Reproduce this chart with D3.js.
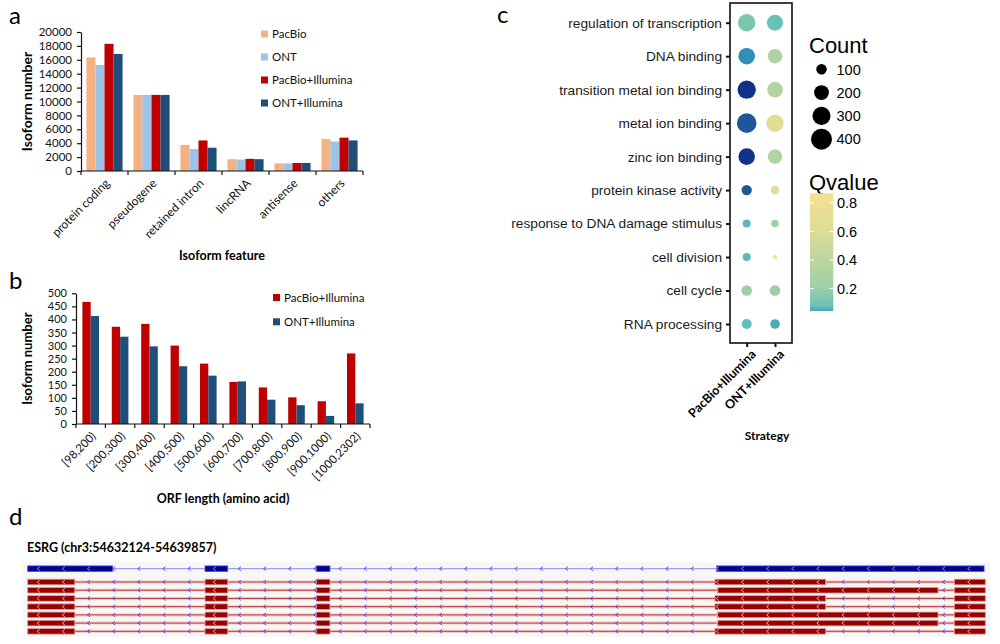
<!DOCTYPE html>
<html>
<head>
<meta charset="utf-8">
<title>Isoform figure</title>
<script src="https://d3js.org/d3.v7.min.js"></script>
<style>
  body { margin: 0; background: #fff; }
  svg { font-family: Lato, sans-serif; }
</style>
</head>
<body>
<svg id="screen" width="1000" height="644"></svg>
<script>
// ---- panel a : isoform feature counts
const featureCats = ["protein coding", "pseudogene", "retained intron", "lincRNA", "antisense", "others"]
const seriesA = ["PacBio", "ONT", "PacBio+Illumina", "ONT+Illumina"]
const pacbio    = [16350, 10950, 3750, 1700, 1100, 4600]
const ont       = [15250, 10950, 3150, 1650, 1100, 4250]
const pacbioIll = [18300, 10950, 4400, 1750, 1150, 4800]
const ontIll    = [16850, 10950, 3350, 1700, 1150, 4400]
const ticksA = [0, 2000, 4000, 6000, 8000, 10000, 12000, 14000, 16000, 18000, 20000]

// ---- panel b : ORF length
const orfCats = ["[98,200)", "[200,300)", "[300,400)", "[400,500)", "[500,600)", "[600,700)", "[700,800)", "[800,900)", "[900,1000)", "[1000,2302)"]
const seriesB = ["PacBio+Illumina", "ONT+Illumina"]
const orfPacIll = [467, 372, 383, 300, 231, 161, 140, 102, 87, 270]
const orfOntIll = [413, 334, 297, 221, 185, 163, 93, 72, 31, 79]
const ticksB = [0, 50, 100, 150, 200, 250, 300, 350, 400, 450, 500]

// ---- panel c : GO enrichment
const goTerms = ["regulation of transcription", "DNA binding", "transition metal ion binding", "metal ion binding",
  "zinc ion binding", "protein kinase activity", "response to DNA damage stimulus", "cell division", "cell cycle", "RNA processing"]
const strategies = ["PacBio+Illumina", "ONT+Illumina"]
const countPac = [275, 250, 307, 348, 250, 98, 58, 58, 102, 91]
const countOnt = [232, 193, 221, 275, 193, 67, 52, 19, 102, 84]
const qPac = [0.12, 0.025, 0.001, 0.006, 0.001, 0.006, 0.055, 0.055, 0.2, 0.06]
const qOnt = [0.07, 0.3, 0.33, 0.65, 0.33, 0.65, 0.22, 0.85, 0.2, 0.045]
const countTicks = [100, 200, 300, 400]
const qTicks = [0.2, 0.4, 0.6, 0.8]

// ---- panel d : ESRG gene models
const geneTitle = "ESRG (chr3:54632124-54639857)"
const region = [54632124, 54639857]
const refExons = [[54632124, 54632810], [54633556, 54633739], [54634455, 54634565], [54637688, 54639847]]
const isoShort = [[54632124, 54632504], [54633556, 54633739], [54634455, 54634565], [54637674, 54638568], [54639607, 54639857]]
const isoLong  = [[54632124, 54632504], [54633556, 54633739], [54634455, 54634565], [54637693, 54639475], [54639607, 54639857]]
const isoforms = [isoShort, isoLong, isoShort, isoShort, isoLong, isoLong, isoShort]

let svg = d3.select('#screen')

// panel letters
svg.selectAll('.plabel')
   .data([["a", 9, 24], ["b", 9, 289], ["c", 497, 23], ["d", 9, 525]])
   .enter().append('text')
   .attr('x', d => d[1]).attr('y', d => d[2])
   .attr('font-size', 24).text(d => d[0])

// grouped bar chart helper (panel a and b look the same apart from sizes)
function barPanel(opt) {
  let g = svg.append('g')
  let y = d3.scaleLinear().domain(opt.domain).range([opt.base, opt.top])
  let x0 = d3.scaleBand().domain(opt.cats).range([opt.left, opt.right])
  let x1 = d3.scaleBand().domain(opt.series).range([0, x0.bandwidth()]).paddingOuter(opt.pad)

  opt.series.forEach(function(s, si) {
    g.selectAll('.bar' + si)
     .data(opt.values[si])
     .enter().append('rect')
     .attr('x', (d, i) => x0(opt.cats[i]) + x1(s))
     .attr('width', x1.bandwidth())
     .attr('y', d => y(d))
     .attr('height', d => opt.base - y(d))
     .attr('fill', opt.colors[si])
  })

  let ya = g.append('g').attr('transform', `translate(${opt.left},0)`)
    .call(d3.axisLeft(y).tickValues(opt.ticks).tickFormat(d3.format('d'))
      .tickSize(4).tickSizeOuter(0).tickPadding(5))
  ya.attr('font-family', 'Lato').attr('font-size', opt.tickFont)
  ya.selectAll('text').attr('fill', '#111')
  ya.selectAll('line, path').attr('stroke', '#111').attr('stroke-width', 1.2)

  // x axis line + ticks at category borders
  g.append('line').attr('x1', opt.left).attr('x2', opt.right)
   .attr('y1', opt.base).attr('y2', opt.base).attr('stroke', '#111').attr('stroke-width', 1.2)
  g.selectAll('.xt').data(opt.cats.map(c => x0(c)).concat([opt.right]))
   .enter().append('line')
   .attr('x1', d => d).attr('x2', d => d).attr('y1', opt.base).attr('y2', opt.base + 4)
   .attr('stroke', '#111').attr('stroke-width', 1.2)
  g.selectAll('.xl').data(opt.cats).enter().append('text')
   .attr('transform', d => `translate(${x0(d) + x0.bandwidth() / 2 + 3},${opt.base + 10}) rotate(-45)`)
   .attr('text-anchor', 'end').attr('dy', '0.35em')
   .attr('font-size', opt.labFont).attr('fill', '#111')
   .text(d => d)

  // legend
  opt.series.forEach(function(s, si) {
    let ly = opt.legY + si * opt.legStep
    g.append('rect').attr('x', opt.legX).attr('y', ly - 3.5).attr('width', 7).attr('height', 7)
     .attr('fill', opt.colors[si])
    g.append('text').attr('x', opt.legX + 11).attr('y', ly).attr('dy', '0.35em')
     .attr('font-size', 11.5).attr('fill', '#111').text(s)
  })

  // titles
  g.append('text').attr('transform', `translate(${opt.ytX},${(opt.base + opt.top) / 2}) rotate(-90)`)
   .attr('text-anchor', 'middle').attr('dy', '0.35em').attr('font-weight', 'bold')
   .attr('font-size', opt.ytFont).text("Isoform number")
  g.append('text').attr('x', opt.xtX).attr('y', opt.xtY).attr('dy', '0.35em')
   .attr('text-anchor', 'middle').attr('font-weight', 'bold').attr('font-size', 12.5)
   .text(opt.xTitle)
}

barPanel({
  cats: featureCats, series: seriesA, values: [pacbio, ont, pacbioIll, ontIll],
  colors: ["#f4b183", "#9dc3e6", "#c00000", "#1f4e79"],
  domain: [0, 20000], ticks: ticksA, base: 171, top: 32, left: 81, right: 363, pad: 0.6,
  tickFont: 11.5, labFont: 12, legX: 261, legY: 34, legStep: 23,
  ytX: 27, ytFont: 14, xtX: 222, xtY: 256, xTitle: "Isoform feature"
})

barPanel({
  cats: orfCats, series: seriesB, values: [orfPacIll, orfOntIll],
  colors: ["#c00000", "#1f4e79"],
  domain: [0, 500], ticks: ticksB, base: 424, top: 293.3, left: 76, right: 370, pad: 0.77,
  tickFont: 11, labFont: 11.5, legX: 273, legY: 297.5, legStep: 24.3,
  ytX: 27, ytFont: 13, xtX: 223, xtY: 499, xTitle: "ORF length (amino acid)"
})

// ---------------- panel c ----------------
let gc = svg.append('g')
let box = {left: 730, right: 792, top: 3, bottom: 343}
let yC = d3.scalePoint().domain(goTerms).range([22.7, 324])
let xC = d3.scalePoint().domain(strategies).range([746.7, 775])
let rC = d3.scaleSqrt().domain([0, 400]).range([0, 10.5])
let qColor = d3.scaleLinear()
  .domain([0, 0.006, 0.025, 0.06, 0.2, 0.4, 0.6, 0.867])
  .range(["#0c2c84", "#1d5797", "#2e8fb8", "#62c0b9", "#9dcfa7", "#bdd6a0", "#dcdc98", "#f7e08d"])

gc.append('rect').attr('x', box.left).attr('y', box.top)
  .attr('width', box.right - box.left).attr('height', box.bottom - box.top)
  .attr('fill', 'white').attr('stroke', '#111').attr('stroke-width', 1.6)

let dots = []
goTerms.forEach(function(t, i) {
  dots.push({term: t, strat: strategies[0], count: countPac[i], q: qPac[i]})
  dots.push({term: t, strat: strategies[1], count: countOnt[i], q: qOnt[i]})
})
gc.selectAll('circle.dot').data(dots).enter().append('circle')
  .attr('cx', d => xC(d.strat)).attr('cy', d => yC(d.term))
  .attr('r', d => rC(d.count)).attr('fill', d => qColor(d.q))

let yaC = gc.append('g').attr('transform', `translate(${box.left},0)`)
  .call(d3.axisLeft(yC).tickSize(4).tickSizeOuter(0).tickPadding(4))
yaC.select('.domain').remove()
yaC.attr('font-family', '"Liberation Sans", Arial, sans-serif').attr('font-size', 13.7)
yaC.selectAll('text').attr('fill', '#1a1a1a')
yaC.selectAll('line').attr('stroke', '#111').attr('stroke-width', 2)

let xaC = gc.append('g').attr('transform', `translate(0,${box.bottom})`)
  .call(d3.axisBottom(xC).tickSize(4).tickSizeOuter(0).tickFormat(''))
xaC.select('.domain').remove()
xaC.selectAll('line').attr('stroke', '#111').attr('stroke-width', 2)
gc.selectAll('.clab').data(strategies).enter().append('text')
  .attr('transform', d => `translate(${xC(d) + 7},${box.bottom + 9}) rotate(-45)`)
  .attr('text-anchor', 'end').attr('dy', '0.35em')
  .attr('font-weight', 'bold').attr('font-size', 12.5).text(d => d)
gc.append('text').attr('x', 767).attr('y', 436).attr('dy', '0.35em')
  .attr('text-anchor', 'middle').attr('font-weight', 'bold').attr('font-size', 12).text("Strategy")

// size legend
let lg = gc.append('g').attr('font-family', '"Liberation Sans", Arial, sans-serif')
lg.append('text').attr('x', 809).attr('y', 53).attr('font-size', 22).text("Count")
lg.selectAll('circle').data(countTicks).enter().append('circle')
  .attr('cx', 821.5).attr('cy', (d, i) => 69.3 + i * 23.3).attr('r', d => rC(d)).attr('fill', '#000')
lg.selectAll('.ct').data(countTicks).enter().append('text')
  .attr('x', 836.5).attr('y', (d, i) => 69.3 + i * 23.3).attr('dy', '0.36em')
  .attr('font-size', 14.5).text(d => d)

// colour bar legend
lg.append('text').attr('x', 809).attr('y', 190).attr('font-size', 22).text("Qvalue")
let qBar = d3.scaleLinear().domain([0.043, 0.867]).range([311, 193.3])
let grad = svg.append('defs').append('linearGradient').attr('id', 'qgrad')
  .attr('x1', 0).attr('y1', 1).attr('x2', 0).attr('y2', 0)
grad.selectAll('stop').data(d3.range(0, 1.0001, 0.05)).enter().append('stop')
  .attr('offset', d => d)
  .attr('stop-color', d => qColor(0.043 + d * (0.867 - 0.043)))
lg.append('rect').attr('x', 810).attr('y', qBar(0.867)).attr('width', 23.3)
  .attr('height', qBar(0.043) - qBar(0.867)).attr('fill', 'url(#qgrad)')
lg.selectAll('.qt').data(qTicks).enter().append('text')
  .attr('x', 837).attr('y', d => qBar(d)).attr('dy', '0.36em').attr('font-size', 14.5).text(d => d)
qTicks.forEach(function(q) {
  lg.append('line').attr('x1', 810).attr('x2', 814).attr('y1', qBar(q)).attr('y2', qBar(q))
    .attr('stroke', 'white').attr('stroke-width', 1)
  lg.append('line').attr('x1', 829.3).attr('x2', 833.3).attr('y1', qBar(q)).attr('y2', qBar(q))
    .attr('stroke', 'white').attr('stroke-width', 1)
})

// ---------------- panel d ----------------
let gd = svg.append('g')
let xD = d3.scaleLinear().domain(region).range([27.7, 985.3])
gd.append('text').attr('x', 27).attr('y', 548).attr('dy', '0.35em')
  .attr('font-weight', 'bold').attr('font-size', 12.5).text(geneTitle)
gd.append('rect').attr('x', 23).attr('y', 562).attr('width', 967).attr('height', 75).attr('fill', '#f7f7f7')

const chevronX = d3.range(13.3, 990, 25.15)
function inExon(px, exons) {
  return exons.some(e => px >= xD(e[0]) && px <= xD(e[1]))
}
function track(exons, yy, c) {
  let t = gd.append('g')
  let x0 = xD(exons[0][0]), x1 = xD(exons[exons.length - 1][1])
  if (c.halo) t.append('line').attr('x1', x0).attr('x2', x1).attr('y1', yy).attr('y2', yy)
    .attr('stroke', c.halo).attr('stroke-width', 3)
  t.append('line').attr('x1', x0).attr('x2', x1).attr('y1', yy).attr('y2', yy)
    .attr('stroke', c.line).attr('stroke-width', 1)
  t.selectAll('rect').data(exons).enter().append('rect')
    .attr('x', d => xD(d[0])).attr('width', d => xD(d[1]) - xD(d[0]))
    .attr('y', yy - 2.8).attr('height', 5.6)
    .attr('fill', c.fill).attr('stroke', c.edge).attr('stroke-width', 0.8)
  t.selectAll('path').data(chevronX.filter(px => px > x0 + 3 && px < x1 - 3)).enter().append('path')
    .attr('d', px => `M${px + 1.3},${yy - 2}L${px - 1.3},${yy}L${px + 1.3},${yy + 2}`)
    .attr('fill', 'none').attr('stroke-width', 0.9)
    .attr('stroke', px => inExon(px, exons) ? c.exonChev : c.intronChev)
}
track(refExons, 568.7, {line: '#8a8af0', fill: '#00009b', edge: '#5050c8', exonChev: '#9a9ae0', intronChev: '#3c3cff'})
isoforms.forEach(function(iso, i) {
  track(iso, 582 + i * 8.22, {halo: '#f2c8c8', line: '#c23a3a', fill: '#990000', edge: '#e09a9a', exonChev: '#e6b4b4', intronChev: '#4646e6'})
})
</script>
</body>
</html>
